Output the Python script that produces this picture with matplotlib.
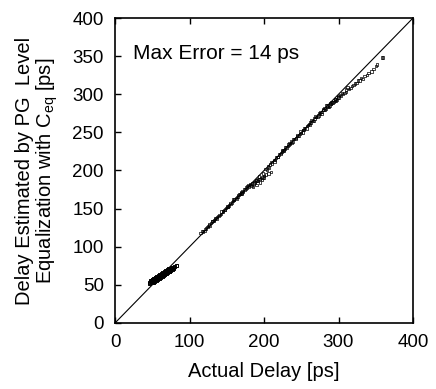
import matplotlib
matplotlib.use("Agg")
import matplotlib.pyplot as plt

plt.rcParams['font.family'] = ['Liberation Sans', 'DejaVu Sans']
plt.rcParams['mathtext.fontset'] = 'custom'
plt.rcParams['mathtext.rm'] = 'Liberation Sans'
plt.rcParams['mathtext.it'] = 'Liberation Sans'

# small-delay cluster (actual, estimated) in ps
cluster_actual = [46, 47, 48, 49, 50, 51, 52, 53, 54, 55, 56, 57, 58, 59, 60, 61, 62, 63,
                  64, 65, 66, 67, 68, 69, 70, 71, 72, 73, 74, 75, 76, 78, 80,
                  48, 50, 52, 54, 56, 58, 60, 62, 64, 66, 68, 70, 72, 74, 76,
                  51, 53, 55, 57, 59, 61, 63, 65, 67, 69, 71, 73, 77, 79, 82]
cluster_est = [52, 53, 54, 55, 55, 57, 56, 58, 57, 59, 58, 60, 61, 60, 62, 61, 63, 62,
               64, 65, 64, 66, 65, 67, 68, 66, 69, 68, 70, 69, 71, 72, 74,
               56, 57, 58, 60, 61, 62, 63, 65, 66, 68, 69, 70, 71, 72, 73,
               53, 55, 56, 57, 59, 60, 61, 63, 64, 65, 67, 68, 70, 73, 75]

# main band (actual, estimated) in ps
band_actual = [115, 118, 120, 121, 124, 125, 127, 130, 133, 135, 136, 139, 142, 145, 145,
               148, 150, 153, 155, 158, 160, 160, 163, 165, 168, 170, 170, 172, 175, 177,
               178, 180, 182, 184, 185, 186, 188, 190, 190, 192, 194, 195, 196, 198, 200,
               200, 202, 203, 205, 206, 208, 209, 210, 213, 215, 218, 220, 223, 225, 228,
               230, 233, 235, 238, 240, 243, 245, 248, 250, 253, 255, 258, 260, 263, 265,
               268, 270, 273, 275, 278, 280, 283, 285, 285, 288, 290, 290, 292, 295, 295,
               298, 300, 300, 303, 305, 306, 310, 310, 314, 318, 322, 326, 330, 335, 340,
               347, 352, 358, 360, 132, 152, 167, 226, 236, 252, 262, 276, 281, 296, 312,
               117, 122, 126, 129, 131, 134, 137, 140, 143, 147, 149, 151, 154, 157, 159,
               162, 164, 166, 169, 171, 174, 176, 179, 181, 183, 187, 189, 191, 193, 197,
               199, 204, 207, 211, 214, 216, 219, 222, 224, 227, 229, 232, 234, 237, 239,
               242, 244, 247, 249, 252, 254, 257, 259, 262, 264, 267, 269, 272, 274, 277,
               279, 282, 284, 287, 289, 291, 294, 297, 299, 302, 308, 316, 320, 324, 328,
               332, 338, 344, 350]
band_est = [118, 120, 121, 123, 126, 127, 128, 133, 135, 138, 137, 140, 143, 147, 146,
            149, 152, 154, 156, 160, 161, 163, 163, 166, 169, 171, 170, 172, 176, 177,
            180, 179, 181, 183, 178, 183, 185, 187, 181, 188, 189, 184, 190, 191, 191,
            193, 202, 195, 205, 196, 208, 198, 211, 214, 214, 218, 221, 223, 226, 228,
            230, 234, 235, 237, 241, 243, 245, 248, 249, 253, 256, 258, 261, 263, 265,
            268, 270, 272, 274, 277, 279, 281, 283, 285, 285, 287, 290, 289, 291, 293,
            293, 296, 298, 298, 302, 300, 303, 306, 307, 311, 314, 318, 321, 324, 328,
            333, 339, 348, 348, 134, 153, 169, 227, 238, 253, 263, 277, 282, 294, 309,
            121, 124, 129, 131, 134, 136, 139, 142, 146, 148, 151, 153, 157, 158, 162,
            164, 165, 168, 170, 173, 175, 178, 181, 182, 180, 184, 187, 186, 192, 188,
            196, 201, 204, 209, 212, 217, 218, 222, 225, 226, 231, 232, 236, 236, 241,
            241, 246, 246, 251, 250, 255, 255, 260, 260, 266, 265, 271, 270, 275, 274,
            280, 279, 285, 283, 288, 289, 290, 292, 296, 299, 302, 308, 312, 315, 318,
            320, 325, 330, 337]

fig = plt.figure(figsize=(4.36, 3.89), dpi=100)
ax = fig.add_axes([0.2638, 0.1697, 0.6835, 0.784])

ax.plot([0, 400], [0, 400], color='black', linewidth=0.8)
ax.scatter(cluster_actual, cluster_est, s=5, marker='s', facecolors='none',
           edgecolors='black', linewidths=0.7)
ax.scatter(band_actual, band_est, s=3, marker='s', facecolors='none',
           edgecolors='black', linewidths=0.5)

ax.set_xlim(0, 400)
ax.set_ylim(0, 400)
ax.set_xticks([0, 100, 200, 300, 400])
ax.set_yticks([0, 50, 100, 150, 200, 250, 300, 350, 400])
ax.tick_params(direction='in', length=4, width=1, labelsize=13.5, pad=8,
               top=True, right=False)
for sp in ax.spines.values():
    sp.set_linewidth(1.2)

ax.text(24, 353, 'Max Error = 14 ps', fontsize=15, va='center', ha='left')
ax.set_xlabel('Actual Delay [ps]', fontsize=14.5, labelpad=8)
ax.set_ylabel('Delay Estimated by PG  Level\nEqualization with C$_{\\rm eq}$ [ps]',
              fontsize=14.5, labelpad=9, linespacing=1.05)

fig.savefig('out.png', dpi=100)
